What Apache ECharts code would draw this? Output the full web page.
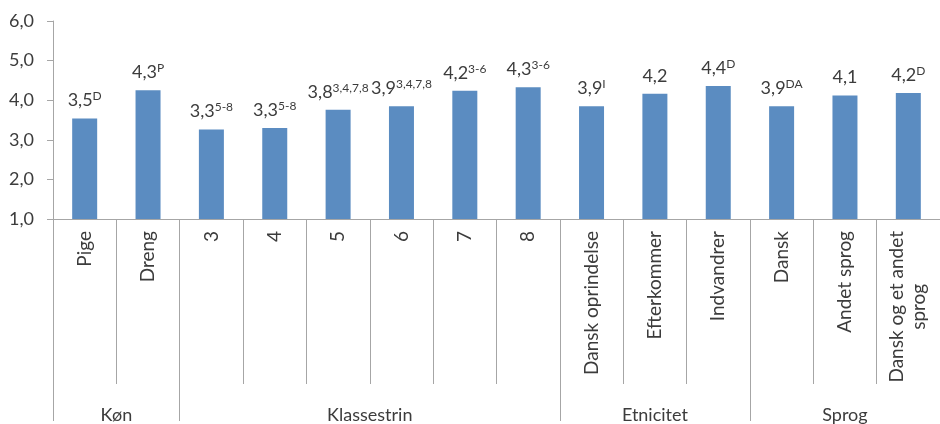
<!DOCTYPE html>
<html>
<head>
<meta charset="utf-8">
<script src="https://cdn.jsdelivr.net/npm/echarts@6/dist/echarts.min.js"></script>
<style>
  html, body { margin: 0; padding: 0; background: #fff; }
  #chart { width: 940px; height: 424px; }
</style>
</head>
<body>
<div id="chart"></div>
<script>
// Mean scores by background group
var categories = ['Pige', 'Dreng', '3', '4', '5', '6', '7', '8',
  'Dansk oprindelse', 'Efterkommer', 'Indvandrer',
  'Dansk', 'Andet sprog', 'Dansk og et andet\nsprog'];
var values = [3.54, 4.25, 3.26, 3.30, 3.76, 3.85, 4.24, 4.33,
  3.85, 4.16, 4.36, 3.85, 4.12, 4.18];
// Significance markers printed as superscripts after each value
var markers = ['D', 'P', '5-8', '5-8', '3,4,7,8', '3,4,7,8', '3-6', '3-6',
  'I', '', 'D', 'DA', '', 'D'];
// Grouping of the categories along the bottom
var groupNames = ['Køn', 'Klassestrin', 'Etnicitet', 'Sprog'];
var groupSizes = [2, 6, 3, 3];
var yTicks = [1, 2, 3, 4, 5, 6];

var FONT = 'Lato, "Open Sans", sans-serif';
var TEXT = '#3c3c3c';
var AXIS = '#a6a6a6';

// Boundaries and centres of the groups on a 0..N scale
var bounds = [0], centers = [];
groupSizes.forEach(function (n, i) {
  var start = bounds[bounds.length - 1];
  bounds.push(start + n);
  centers.push(start + n / 2);
});

function fmt(v) { return v.toFixed(1).replace('.', ','); }

var chart = echarts.init(document.getElementById('chart'), null, { renderer: 'canvas' });
chart.setOption({
  animation: false,
  grid: { left: 53, right: -9, top: 21, bottom: 202, containLabel: false },
  xAxis: [
    {
      type: 'category',
      data: categories,
      position: 'bottom',
      axisLine: { show: true, lineStyle: { color: AXIS, width: 1 } },
      axisTick: { show: true, alignWithLabel: false, interval: 0, length: 165,
        lineStyle: { color: AXIS, width: 1 } },
      axisLabel: {
        interval: 0, rotate: 90, margin: 12,
        color: TEXT, fontFamily: FONT, fontSize: 19, lineHeight: 22,
        formatter: function (v) {
          return v.split('\n').map(function (s) { return '{c|' + s + '}'; }).join('\n');
        },
        rich: { c: { align: 'center', color: TEXT, fontFamily: FONT, fontSize: 19, lineHeight: 22 } }
      },
      splitLine: { show: false }
    },
    {
      type: 'value',
      min: 0, max: categories.length,
      position: 'bottom',
      axisLine: { show: false },
      axisTick: { show: true, customValues: bounds, length: 202,
        lineStyle: { color: AXIS, width: 1 } },
      axisLabel: {
        show: true, customValues: centers, margin: 187,
        color: TEXT, fontFamily: FONT, fontSize: 18,
        formatter: function (v) {
          var i = centers.indexOf(v);
          return i >= 0 ? groupNames[i] : '';
        }
      },
      splitLine: { show: false }
    }
  ],
  yAxis: {
    type: 'value',
    min: yTicks[0], max: yTicks[yTicks.length - 1], interval: 1,
    axisLine: { show: true, lineStyle: { color: AXIS, width: 1 } },
    axisTick: { show: true, length: 6, lineStyle: { color: AXIS, width: 1 } },
    axisLabel: {
      margin: 19, color: TEXT, fontFamily: FONT, fontSize: 18,
      formatter: function (v) { return fmt(v); }
    },
    splitLine: { show: false }
  },
  series: [{
    type: 'bar',
    xAxisIndex: 0,
    data: values,
    barWidth: 25,
    itemStyle: { color: '#5b8cc1' },
    label: {
      show: true, position: 'top', distance: 8,
      formatter: function (p) {
        var sup = markers[p.dataIndex];
        return '{v|' + fmt(p.value) + '}' + (sup ? '{s|' + sup + '}' : '');
      },
      rich: {
        v: { fontFamily: FONT, fontSize: 18, color: TEXT, lineHeight: 20 },
        s: { fontFamily: FONT, fontSize: 12, color: TEXT, verticalAlign: 'top', lineHeight: 20, padding: [0, 0, 3, 0] }
      }
    }
  }]
});
</script>
</body>
</html>
